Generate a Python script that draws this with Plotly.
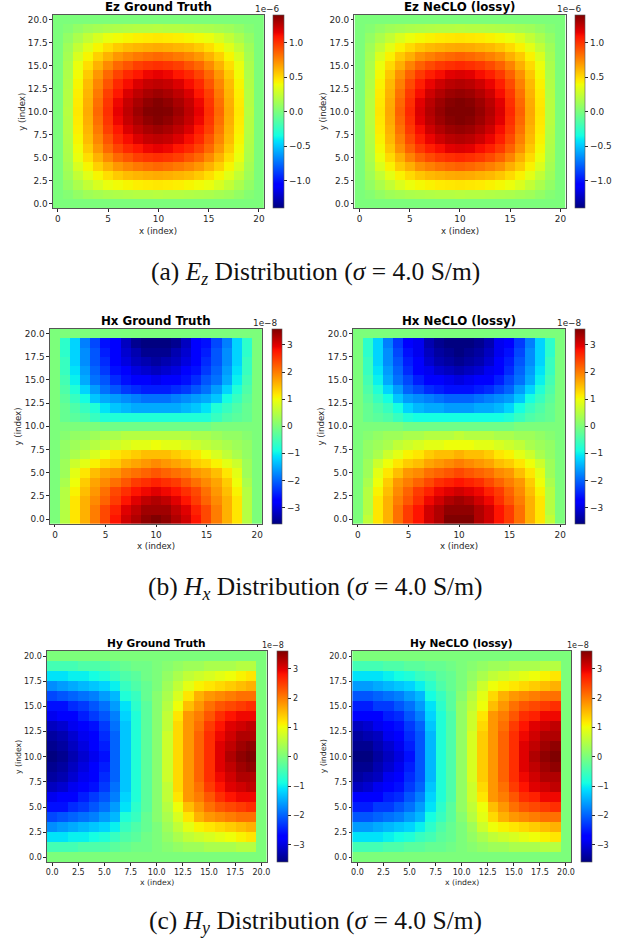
import numpy as np
import plotly.graph_objects as go

EZ_UNIT = 1e-8
H_UNIT = 1e-9

ez_true = [
[0]*21,
[0,3,8,12,14,16,17,18,19,19,20,19,19,18,17,16,14,12,8,3,0],
[0,8,16,24,31,37,40,42,44,45,46,45,44,42,40,37,31,24,16,8,0],
[0,12,24,34,42,49,55,59,61,63,64,63,61,59,55,49,42,34,24,12,0],
[0,14,31,42,53,62,70,75,79,82,84,82,79,75,70,62,53,42,31,14,0],
[0,16,37,49,62,74,84,90,96,99,101,99,96,90,84,74,62,49,37,16,0],
[0,17,40,55,70,84,95,103,108,113,115,113,108,103,95,84,70,55,40,17,0],
[0,18,42,59,75,90,103,111,118,123,125,123,118,111,103,90,75,59,42,18,0],
[0,19,44,61,79,96,108,118,125,130,133,130,125,118,108,96,79,61,44,19,0],
[0,19,45,63,82,99,113,123,130,136,139,136,130,123,113,99,82,63,45,19,0],
[0,20,46,64,84,101,115,125,133,139,140,139,133,125,115,101,84,64,46,20,0],
[0,19,45,63,82,99,113,123,130,136,139,136,130,123,113,99,82,63,45,19,0],
[0,19,44,61,79,96,108,118,125,130,133,130,125,118,108,96,79,61,44,19,0],
[0,18,42,59,75,90,103,111,118,123,125,123,118,111,103,90,75,59,42,18,0],
[0,17,40,55,70,84,95,103,108,113,115,113,108,103,95,84,70,55,40,17,0],
[0,16,37,49,62,74,84,90,96,99,101,99,96,90,84,74,62,49,37,16,0],
[0,14,31,42,53,62,70,75,79,82,84,82,79,75,70,62,53,42,31,14,0],
[0,12,24,34,42,49,55,59,61,63,64,63,61,59,55,49,42,34,24,12,0],
[0,8,16,24,31,37,40,42,44,45,46,45,44,42,40,37,31,24,16,8,0],
[0,3,8,12,14,16,17,18,19,19,20,19,19,18,17,16,14,12,8,3,0],
[0]*21,
]

ez_neclo = [
[0]*21,
[0,3,8,12,14,16,17,18,19,19,20,19,19,18,17,16,14,12,8,3,0],
[0,8,16,24,32,38,41,43,45,46,47,46,45,43,41,38,32,24,16,8,0],
[0,12,24,35,43,50,56,60,62,64,65,64,62,60,56,50,43,35,24,12,0],
[0,14,32,43,55,63,72,77,81,84,86,84,81,77,72,63,55,43,32,14,0],
[0,16,38,50,63,76,86,93,98,101,103,101,98,93,86,76,63,50,38,16,0],
[0,17,41,56,72,86,98,106,111,116,118,116,111,106,98,86,72,56,41,17,0],
[0,18,43,60,77,93,106,114,121,126,128,126,121,114,106,93,77,60,43,18,0],
[0,19,45,62,81,98,111,121,128,133,135,133,128,121,111,98,81,62,45,19,0],
[0,20,46,64,84,101,116,126,133,138,140,138,133,126,116,101,84,64,46,20,0],
[0,20,47,65,86,103,118,128,135,140,140,140,135,128,118,103,86,65,47,20,0],
[0,20,46,64,84,101,116,126,133,138,140,138,133,126,116,101,84,64,46,20,0],
[0,19,45,62,81,98,111,121,128,133,135,133,128,121,111,98,81,62,45,19,0],
[0,18,43,60,77,93,106,114,121,126,128,126,121,114,106,93,77,60,43,18,0],
[0,17,41,56,72,86,98,106,111,116,118,116,111,106,98,86,72,56,41,17,0],
[0,16,38,50,63,76,86,93,98,101,103,101,98,93,86,76,63,50,38,16,0],
[0,14,32,43,55,63,72,77,81,84,86,84,81,77,72,63,55,43,32,14,0],
[0,12,24,35,43,50,56,60,62,64,65,64,62,60,56,50,43,35,24,12,0],
[0,8,16,24,32,38,41,43,45,46,47,46,45,43,41,38,32,24,16,8,0],
[0,3,8,12,14,16,17,18,19,19,20,19,19,18,17,16,14,12,8,3,0],
[0]*21,
]

hx_true = [
[0,5,12,16,20,24,28,31,33,35,36,35,33,31,28,24,20,16,12,5,0],
[0,5,12,16,20,24,27,30,32,34,34,34,32,30,27,24,20,16,12,5,0],
[0,5,12,16,19,22,25,28,30,32,33,32,30,28,25,22,19,16,12,5,0],
[0,5,11,15,18,21,24,26,28,29,30,29,28,26,24,21,18,15,11,5,0],
[0,4,10,14,17,19,21,23,25,26,27,26,25,23,21,19,17,14,10,4,0],
[0,3,9,12,15,17,18,20,21,22,23,22,21,20,18,17,15,12,9,3,0],
[0,3,7,9,11,13,14,16,17,18,19,18,17,16,14,13,11,9,7,3,0],
[0,2,4,6,8,10,12,13,14,15,15,15,14,13,12,10,8,6,4,2,0],
[0,2,3,4,5,6,7,8,9,9,10,9,9,8,7,6,5,4,3,2,0],
[0,1,2,2,3,4,4,5,5,5,5,5,5,5,4,4,3,2,2,1,0],
[0,0,0,0,0,-1,-1,-1,-1,-1,-1,-1,-1,-1,-1,-1,0,0,0,0,0],
[0,-2,-3,-4,-6,-8,-8,-8,-8,-8,-8,-8,-8,-8,-8,-8,-6,-4,-3,-2,0],
[0,-2,-4,-6,-8,-11,-13,-14,-15,-15,-15,-15,-15,-14,-13,-11,-8,-6,-4,-2,0],
[0,-3,-6,-9,-13,-15,-16,-17,-18,-19,-19,-19,-18,-17,-16,-15,-13,-9,-6,-3,0],
[0,-4,-8,-12,-16,-19,-21,-23,-24,-25,-25,-25,-24,-23,-21,-19,-16,-12,-8,-4,0],
[0,-5,-10,-15,-19,-21,-24,-26,-27,-28,-29,-28,-27,-26,-24,-21,-19,-15,-10,-5,0],
[0,-6,-11,-16,-20,-23,-26,-28,-30,-31,-32,-31,-30,-28,-26,-23,-20,-16,-11,-6,0],
[0,-6,-12,-17,-21,-24,-27,-30,-32,-33,-34,-33,-32,-30,-27,-24,-21,-17,-12,-6,0],
[0,-7,-12,-17,-21,-25,-28,-31,-33,-35,-35,-35,-33,-31,-28,-25,-21,-17,-12,-7,0],
[0,-7,-12,-18,-22,-26,-28,-32,-35,-36,-36,-36,-35,-32,-28,-26,-22,-18,-12,-7,0],
[0]*21,
]

hx_neclo = [
[0,6,12,16,21,25,28,31,33,36,36,36,33,31,28,25,21,16,12,6,0],
[0,5,12,16,21,25,28,31,33,35,35,35,33,31,28,25,21,16,12,5,0],
[0,5,12,16,20,23,26,29,31,33,34,33,31,29,26,23,20,16,12,5,0],
[0,5,11,15,19,22,25,27,29,30,31,30,29,27,25,22,19,15,11,5,0],
[0,4,10,14,18,20,22,24,26,27,28,27,26,24,22,20,18,14,10,4,0],
[0,3,9,12,15,18,19,21,22,23,24,23,22,21,19,18,15,12,9,3,0],
[0,3,7,10,12,14,15,17,18,19,20,19,18,17,15,14,12,10,7,3,0],
[0,2,4,7,9,11,12,14,15,15,16,15,15,14,12,11,9,7,4,2,0],
[0,2,3,4,6,7,8,9,9,10,10,10,9,9,8,7,6,4,3,2,0],
[0,1,2,3,3,4,4,5,5,5,6,5,5,5,4,4,3,3,2,1,0],
[0,0,0,0,0,-1,-1,-1,-1,-1,-1,-1,-1,-1,-1,-1,0,0,0,0,0],
[0,-2,-3,-4,-6,-8,-9,-9,-9,-9,-9,-9,-9,-9,-9,-8,-6,-4,-3,-2,0],
[0,-2,-4,-6,-9,-12,-14,-15,-15,-16,-16,-16,-15,-15,-14,-12,-9,-6,-4,-2,0],
[0,-3,-6,-9,-13,-16,-17,-18,-19,-20,-20,-20,-19,-18,-17,-16,-13,-9,-6,-3,0],
[0,-4,-8,-12,-16,-20,-22,-24,-25,-26,-26,-26,-25,-24,-22,-20,-16,-12,-8,-4,0],
[0,-5,-10,-15,-19,-22,-25,-27,-28,-29,-30,-29,-28,-27,-25,-22,-19,-15,-10,-5,0],
[0,-6,-11,-16,-20,-24,-27,-29,-31,-32,-33,-32,-31,-29,-27,-24,-20,-16,-11,-6,0],
[0,-6,-12,-17,-21,-25,-28,-31,-33,-34,-35,-34,-33,-31,-28,-25,-21,-17,-12,-6,0],
[0,-7,-12,-17,-22,-26,-29,-32,-34,-35,-36,-35,-34,-32,-29,-26,-22,-17,-12,-7,0],
[0,-7,-12,-18,-23,-27,-29,-33,-35,-36,-36,-36,-35,-33,-29,-27,-23,-18,-12,-7,0],
[0]*21,
]

hy_true = [
[0]*21,
[-5,-5,-5,-4,-4,-4,-3,-2,-1,-1,0,1,2,3,3,4,4,4,5,5,0],
[-11,-11,-10,-10,-9,-8,-6,-4,-3,-1,0,2,4,6,7,8,9,10,11,12,0],
[-17,-16,-15,-14,-13,-12,-10,-6,-4,-2,0,3,6,9,11,12,13,14,15,16,0],
[-22,-21,-20,-19,-18,-16,-14,-8,-6,-2,1,4,8,12,16,18,19,20,21,21,0],
[-26,-26,-24,-23,-21,-19,-16,-11,-7,-3,1,5,10,15,18,21,23,24,25,26,0],
[-29,-28,-27,-25,-23,-21,-18,-12,-8,-3,1,6,12,18,20,23,26,28,29,29,0],
[-32,-31,-29,-27,-26,-23,-19,-13,-8,-3,1,6,13,18,21,25,28,30,31,32,0],
[-34,-33,-31,-29,-27,-24,-20,-13,-8,-3,1,7,13,18,22,26,29,31,33,33,0],
[-35,-34,-32,-30,-28,-25,-20,-13,-8,-3,1,7,13,18,22,26,30,32,34,35,0],
[-36,-35,-33,-31,-29,-26,-20,-13,-8,-3,1,7,13,18,22,26,30,33,35,36,0],
[-35,-34,-32,-30,-28,-25,-20,-13,-8,-3,1,7,13,18,22,26,30,32,34,35,0],
[-34,-33,-31,-29,-27,-24,-20,-13,-8,-3,1,7,13,18,22,26,29,31,33,33,0],
[-32,-31,-29,-27,-26,-23,-19,-13,-8,-3,1,6,13,18,21,25,28,30,31,32,0],
[-29,-28,-27,-25,-23,-21,-18,-12,-8,-3,1,6,12,18,20,23,26,28,29,29,0],
[-26,-26,-24,-23,-21,-19,-16,-11,-7,-3,1,5,10,15,18,21,23,24,25,26,0],
[-22,-21,-20,-19,-18,-16,-14,-8,-6,-2,1,4,8,12,16,18,19,20,21,21,0],
[-17,-16,-15,-14,-13,-12,-10,-6,-4,-2,0,3,6,9,11,12,13,14,15,16,0],
[-11,-11,-10,-10,-9,-8,-6,-4,-3,-1,0,2,4,6,7,8,9,10,11,12,0],
[-5,-5,-5,-4,-4,-4,-3,-2,-1,-1,0,1,2,3,3,4,4,4,5,5,0],
[0]*21,
]

hy_neclo = [
[0]*21,
[-5,-5,-5,-4,-4,-3,-3,-2,-2,-1,0,1,2,3,3,4,4,4,5,5,0],
[-11,-11,-11,-10,-9,-8,-6,-5,-3,-2,0,2,4,6,7,8,9,10,11,12,0],
[-16,-16,-15,-14,-13,-12,-10,-7,-4,-2,0,3,7,10,11,12,13,14,15,16,0],
[-21,-21,-20,-19,-18,-16,-14,-9,-6,-3,1,5,9,13,16,18,19,20,21,21,0],
[-25,-25,-23,-23,-21,-19,-16,-11,-7,-3,2,6,10,15,18,21,23,24,25,26,0],
[-28,-28,-27,-25,-24,-21,-18,-12,-8,-4,2,7,12,18,20,23,26,27,29,29,0],
[-32,-31,-29,-27,-26,-23,-20,-13,-8,-4,2,7,13,18,21,25,28,30,31,32,0],
[-34,-33,-32,-29,-27,-24,-21,-14,-8,-4,2,8,14,18,22,26,29,31,33,33,0],
[-35,-35,-33,-31,-29,-25,-21,-14,-8,-4,2,8,14,18,22,26,30,32,34,35,0],
[-36,-36,-34,-32,-30,-26,-21,-14,-8,-4,2,8,14,18,22,26,30,33,35,36,0],
[-35,-35,-33,-31,-29,-25,-21,-14,-8,-4,2,8,14,18,22,26,30,32,34,35,0],
[-34,-33,-32,-29,-27,-24,-21,-14,-8,-4,2,8,14,18,22,26,29,31,33,33,0],
[-32,-31,-29,-27,-26,-23,-20,-13,-8,-4,2,7,13,18,21,25,28,30,31,32,0],
[-28,-28,-27,-25,-24,-21,-18,-12,-8,-4,2,7,12,18,20,23,26,27,29,29,0],
[-25,-25,-23,-23,-21,-19,-16,-11,-7,-3,2,6,10,15,18,21,23,24,25,26,0],
[-21,-21,-20,-19,-18,-16,-14,-9,-6,-3,1,5,9,13,16,18,19,20,21,21,0],
[-16,-16,-15,-14,-13,-12,-10,-7,-4,-2,0,3,7,10,11,12,13,14,15,16,0],
[-11,-11,-11,-10,-9,-8,-6,-5,-3,-2,0,2,4,6,7,8,9,10,11,12,0],
[-5,-5,-5,-4,-4,-3,-3,-2,-2,-1,0,1,2,3,3,4,4,4,5,5,0],
[0]*21,
]

titles = ["Ez Ground Truth", "Ez NeCLO (lossy)", "Hx Ground Truth",
          "Hx NeCLO (lossy)", "Hy Ground Truth", "Hy NeCLO (lossy)"]
captions = ["(a) <i>E<sub>z</sub></i> Distribution (<i>σ</i> = 4.0 S/m)",
            "(b) <i>H<sub>x</sub></i> Distribution (<i>σ</i> = 4.0 S/m)",
            "(c) <i>H<sub>y</sub></i> Distribution (<i>σ</i> = 4.0 S/m)"]
xticks_5 = [0, 5, 10, 15, 20]
xticks_25 = [0, 2.5, 5, 7.5, 10, 12.5, 15, 17.5, 20]
yticks = [0, 2.5, 5, 7.5, 10, 12.5, 15, 17.5, 20]
ez_cbar_ticks = [-1.0, -0.5, 0.0, 0.5, 1.0]
h_cbar_ticks = [-3, -2, -1, 0, 1, 2, 3]

W, H = 633, 942
JET = [[0, "rgb(0,0,128)"], [.11, "rgb(0,0,255)"], [.125, "rgb(0,0,255)"],
       [.34, "rgb(0,219,255)"], [.35, "rgb(0,230,247)"], [.375, "rgb(21,255,226)"],
       [.64, "rgb(239,255,8)"], [.65, "rgb(247,246,0)"], [.66, "rgb(255,236,0)"],
       [.89, "rgb(255,19,0)"], [.91, "rgb(232,0,0)"], [1, "rgb(128,0,0)"]]
TXT = "#262626"
FRAME = "#555555"

panels = [
    (ez_true, EZ_UNIT, 1.4e-6, 1e-6, ez_cbar_ticks, "1e−6", xticks_5, 52.3, 265, 15, 208.5, 274.5, 285, 1.0),
    (ez_neclo, EZ_UNIT, 1.4e-6, 1e-6, ez_cbar_ticks, "1e−6", xticks_5, 356.3, 569, 15, 208.5, 579, 589, 1.0),
    (hx_true, H_UNIT, 3.6e-8, 1e-8, h_cbar_ticks, "1e−8", xticks_5, 49.3, 263.3, 329.3, 524.3, 273, 283, 1.0),
    (hx_neclo, H_UNIT, 3.6e-8, 1e-8, h_cbar_ticks, "1e−8", xticks_5, 354.7, 568.7, 329.3, 524.3, 579, 589, 1.0),
    (hy_true, H_UNIT, 3.6e-8, 1e-8, h_cbar_ticks, "1e−8", xticks_25, 46.3, 267.7, 651.7, 863.3, 277.7, 288.6, 0.9),
    (hy_neclo, H_UNIT, 3.6e-8, 1e-8, h_cbar_ticks, "1e−8", xticks_25, 354, 574.7, 651.7, 863.3, 585, 596, 0.9),
]

def fmt_tick(v, one_dec):
    s = f"{v:.1f}" if one_dec else f"{v:.0f}"
    return s.replace("-", "−")

fig = go.Figure()
annotations = []
layout_axes = {}
for i, (grid, unit, zm, cunit, cticks, exp, xt, x0, x1, y0, y1, cx0, cx1, fs) in enumerate(panels):
    n = "" if i == 0 else str(i + 1)
    tick_size = 8.9 * fs
    label_size = 8.6 * fs
    title_size = 11.8 * fs
    one_dec = cticks is ez_cbar_ticks
    fig.add_trace(go.Heatmap(
        z=(np.array(grid, dtype=float) * unit).tolist(),
        x=list(range(21)), y=list(range(21)),
        colorscale=JET, zmin=-zm, zmax=zm, zsmooth=False, hoverinfo="skip",
        xaxis=f"x{n}", yaxis=f"y{n}",
        colorbar=dict(
            x=cx0 / W, xanchor="left", xpad=0, ypad=0,
            y=1 - y1 / H, yanchor="bottom", len=(y1 - y0) / H, lenmode="fraction",
            thickness=cx1 - cx0, thicknessmode="pixels",
            outlinewidth=0.6, outlinecolor=FRAME, borderwidth=0,
            tickmode="array", tickvals=[v * cunit for v in cticks],
            ticktext=[fmt_tick(v, one_dec) for v in cticks],
            ticks="outside", ticklen=3.5, tickwidth=0.7, tickcolor=TXT,
            tickfont=dict(family="DejaVu Sans", size=tick_size, color=TXT),
        ),
    ))
    axis_common = dict(
        range=[-0.5, 20.5], showgrid=False, zeroline=False, showline=True, mirror=True,
        linecolor=FRAME, linewidth=1, ticks="outside", ticklen=2.5, tickwidth=0.7, tickcolor=TXT,
        tickfont=dict(family="DejaVu Sans", size=tick_size, color=TXT), tickmode="array",
    )
    x_dec = xt is xticks_25
    layout_axes[f"xaxis{n}"] = dict(axis_common, domain=[x0 / W, x1 / W], anchor=f"y{n}",
                                    tickvals=xt, ticktext=[fmt_tick(v, x_dec) for v in xt])
    layout_axes[f"yaxis{n}"] = dict(axis_common, domain=[1 - y1 / H, 1 - y0 / H], anchor=f"x{n}",
                                    tickvals=yticks, ticktext=[fmt_tick(v, True) for v in yticks])
    xc = (x0 + x1) / 2
    yc = (y0 + y1) / 2
    def txt(text, px, py, size, **kw):
        annotations.append(dict(text=text, x=px / W, y=1 - py / H, xref="paper", yref="paper",
                                showarrow=False, font=dict(family="DejaVu Sans", size=size, color=kw.pop("color", TXT)),
                                xanchor=kw.pop("xanchor", "center"), yanchor="middle", **kw))
    txt(f"<b>{titles[i]}</b>", xc, y0 - 7.5, title_size, color="#000000")
    txt("x (index)", xc, y1 + 22.5 * fs, label_size)
    txt("y (index)", x0 - 32 * fs, yc, label_size, textangle=-90)
    txt(exp, cx1 - 1.5, y0 - 6, tick_size, xanchor="right")

for cap, py in zip(captions, [273, 588.5, 922.5]):
    annotations.append(dict(text=cap, x=317 / W, y=1 - py / H, xref="paper", yref="paper", showarrow=False,
                            xanchor="center", yanchor="middle",
                            font=dict(family="Liberation Serif", size=25.5, color="#111111")))

fig.update_layout(width=W, height=H, margin=dict(l=0, r=0, t=0, b=0), paper_bgcolor="white",
                  plot_bgcolor="white", annotations=annotations, **layout_axes)
fig.write_html("out.html", config={"displayModeBar": False},
               post_script="document.body.style.margin='0';document.body.style.overflow='hidden';")
